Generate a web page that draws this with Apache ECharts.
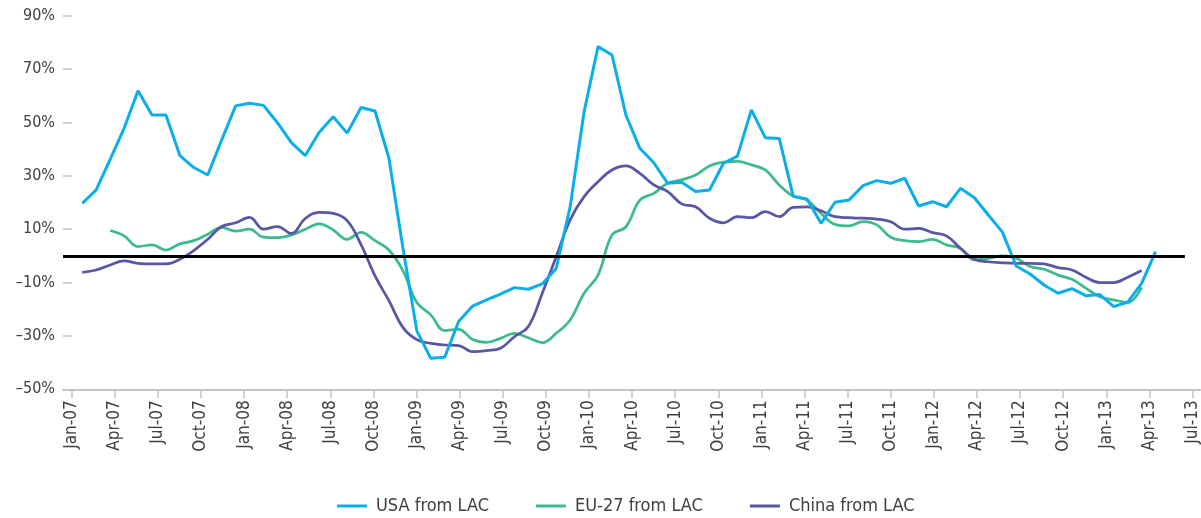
<!DOCTYPE html>
<html>
<head>
<meta charset="utf-8">
<script src="https://cdn.jsdelivr.net/npm/echarts@6/dist/echarts.min.js"></script>
<style>
  html, body { margin: 0; padding: 0; background: #fff; }
  #chart { width: 1201px; height: 518px; }
</style>
</head>
<body>
<div id="chart"></div>
<script>
// quarterly tick labels, Jan-07 .. Jul-13
var tickLabels = ['Jan-07', 'Apr-07', 'Jul-07', 'Oct-07', 'Jan-08', 'Apr-08', 'Jul-08', 'Oct-08',
    'Jan-09', 'Apr-09', 'Jul-09', 'Oct-09', 'Jan-10', 'Apr-10', 'Jul-10', 'Oct-10',
    'Jan-11', 'Apr-11', 'Jul-11', 'Oct-11', 'Jan-12', 'Apr-12', 'Jul-12', 'Oct-12',
    'Jan-13', 'Apr-13', 'Jul-13'];
var yTicks = [-50, -30, -10, 10, 30, 50, 70, 90];

// monthly growth rates (%), one value per observation
var usa = [19.7, 24.7, 36.2, 47.8, 61.9, 52.8, 52.8, 37.6, 33.1, 30.3,
    43.4, 56.2, 57.2, 56.4, 49.9, 42.4, 37.6, 46.3, 52.1, 46.0,
    55.6, 54.3, 36.6, 3.0, -28.1, -38.4, -38.0, -24.6, -18.8, -16.5,
    -14.3, -11.9, -12.5, -10.5, -4.7, 18.4, 54.0, 78.4, 75.3, 52.8,
    40.3, 34.9, 27.2, 27.6, 24.1, 24.7, 34.7, 37.4, 54.7, 44.3,
    44.0, 22.4, 21.2, 12.2, 20.1, 20.9, 26.3, 28.2, 27.2, 29.1,
    18.7, 20.3, 18.4, 25.3, 21.8, 15.3, 9.0, -3.8, -6.8, -10.9,
    -14.0, -12.3, -14.9, -14.5, -19.0, -17.3, -10.3, 1.6];

var eu27 = [null, null, 9.5, 7.5, 3.5, 4.1, 2.2, 4.5, 5.7, 8.1,
    10.7, 9.3, 10.0, 7.0, 6.8, 7.8, 10.0, 12.0, 9.7, 6.2,
    8.8, 5.7, 2.2, -5.5, -17.5, -22.1, -28.0, -27.5, -31.3, -32.4,
    -30.9, -29.0, -30.7, -32.5, -29.0, -24.0, -14.0, -7.2, 7.8, 10.9,
    20.9, 23.4, 27.2, 28.5, 30.3, 33.7, 35.1, 35.4, 34.1, 32.2,
    26.6, 22.4, 20.9, 15.9, 11.8, 11.2, 12.8, 11.6, 7.0, 5.7,
    5.3, 6.2, 4.1, 2.8, -1.5, -0.9, 0.0, -0.9, -4.0, -5.0,
    -7.2, -8.8, -12.1, -15.3, -16.5, -17.5, -11.8];

var china = [-6.2, -5.3, -3.4, -1.9, -2.8, -3.0, -3.0, -1.3, 2.0, 6.2,
    11.0, 12.4, 14.4, 10.0, 11.0, 8.4, 14.0, 16.3, 15.9, 13.2,
    4.2, -7.5, -16.8, -26.8, -31.4, -32.8, -33.4, -33.6, -35.9, -35.5,
    -34.6, -30.3, -26.5, -14.0, -0.3, 13.5, 22.2, 27.8, 32.2, 33.7,
    30.9, 26.6, 24.1, 19.5, 18.4, 14.1, 12.4, 14.7, 14.3, 16.6,
    14.7, 18.2, 18.4, 16.9, 14.7, 14.3, 14.1, 13.8, 12.8, 10.0,
    10.3, 8.7, 7.5, 2.8, -1.3, -2.2, -2.6, -2.8, -2.8, -3.0,
    -4.4, -5.3, -8.0, -10.0, -10.0, -8.0, -5.5];

function pairs(arr) {
    return arr.map(function (v, i) { return [i, v]; });
}

var FONT = '"DejaVu Sans Condensed", "Liberation Sans Narrow", "DejaVu Sans", sans-serif';
var TEXT = '#404040';
var GRAY = '#c4c4c4';
var quarterTicks = tickLabels.map(function (_, k) { return k * 3; });

var myChart = echarts.init(document.getElementById('chart'));

myChart.setOption({
    backgroundColor: '#fff',
    animation: false,
    textStyle: { fontFamily: FONT },
    grid: { left: 63, right: 0, top: 15.7, height: 373.6 },
    legend: {
        left: 337,
        top: 497,
        padding: 0,
        icon: 'rect',
        itemWidth: 30,
        itemHeight: 3,
        itemGap: 47,
        textStyle: { fontFamily: FONT, fontSize: 18, color: TEXT, padding: [0, 0, 0, 4] },
        data: ['USA from LAC', 'EU-27 from LAC', 'China from LAC']
    },
    xAxis: [{
        // visible month axis
        type: 'value',
        min: -0.605,
        max: 78.53,
        axisLine: { show: true, onZero: false, lineStyle: { color: GRAY, width: 2 } },
        axisTick: {
            show: true, length: 9, lineStyle: { color: GRAY, width: 1.5 },
            customValues: quarterTicks
        },
        axisLabel: {
            rotate: 90,
            margin: 11,
            fontSize: 17,
            color: TEXT,
            fontFamily: FONT,
            customValues: quarterTicks,
            formatter: function (v) { return tickLabels[Math.round(v / 3)]; }
        },
        splitLine: { show: false }
    }, {
        // observation index axis used by the series
        type: 'value',
        show: false,
        min: -1.3835,
        max: 80.194,
        axisLine: { onZero: false },
        splitLine: { show: false }
    }],
    yAxis: {
        type: 'value',
        min: -50,
        max: 90,
        axisLine: { show: false, onZero: false },
        axisTick: {
            show: true, inside: true, length: 9,
            lineStyle: { color: GRAY, width: 1.5 },
            customValues: yTicks
        },
        axisLabel: {
            margin: 8,
            fontSize: 16,
            color: TEXT,
            fontFamily: FONT,
            customValues: yTicks,
            formatter: function (v) { return (v < 0 ? '\u2013' + Math.abs(v) : v) + '%'; }
        },
        splitLine: { show: false }
    },
    series: [{
        name: 'USA from LAC',
        type: 'line',
        xAxisIndex: 1,
        showSymbol: false,
        lineStyle: { color: '#0aaeea', width: 3 },
        itemStyle: { color: '#0aaeea' },
        data: pairs(usa),
        z: 3,
        markLine: {
            silent: true,
            symbol: 'none',
            label: { show: false },
            lineStyle: { color: '#000', width: 3, type: 'solid' },
            data: [[{ coord: [-1.3835, 0] }, { coord: [79.1, 0] }]]
        }
    }, {
        name: 'EU-27 from LAC',
        type: 'line',
        xAxisIndex: 1,
        showSymbol: false,
        smooth: 0.4,
        lineStyle: { color: '#3dbb8c', width: 2.75 },
        itemStyle: { color: '#3dbb8c' },
        data: pairs(eu27),
        z: 2
    }, {
        name: 'China from LAC',
        type: 'line',
        xAxisIndex: 1,
        showSymbol: false,
        smooth: 0.4,
        lineStyle: { color: '#5856a5', width: 2.75 },
        itemStyle: { color: '#5856a5' },
        data: pairs(china),
        z: 2
    }]
});
</script>
</body>
</html>
